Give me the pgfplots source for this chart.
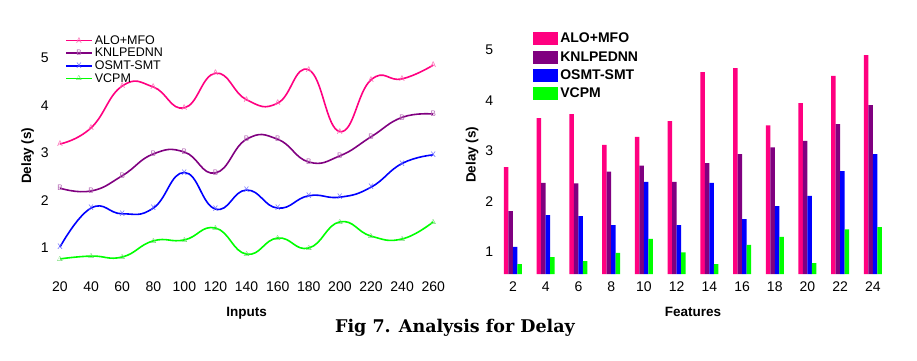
\documentclass[border=0pt]{standalone}
\usepackage{pgfplots}
\pgfplotsset{compat=1.18}
\usepackage{fontspec}
\setmainfont{Liberation Sans}
\newfontfamily\capfont{DejaVu Serif}
\definecolor{cA}{RGB}{255,0,128}
\definecolor{cB}{RGB}{128,0,128}
\definecolor{cC}{RGB}{0,0,255}
\definecolor{cD}{RGB}{0,255,0}
\newcommand\mk{\fontsize{8}{8}\selectfont}
\pgfplotsset{
  common/.style={
    scale only axis,
    axis x line*=bottom, axis y line*=left,
    axis line style={draw=none},
    major tick length=0pt,
    tick style={draw=none},
    /pgf/number format/assume math mode=true,
    ticklabel style={font=\fontsize{14}{16}\selectfont},
    xticklabel style={yshift=-4pt},
    label style={font=\bfseries\fontsize{13.5}{16}\selectfont},
    xlabel style={yshift=-9pt},
    ytick={1,2,3,4,5},
    clip=false,
  },
  lin/.style={line width=1.6pt, smooth, tension=0.8},
}
\begin{document}
\begin{tikzpicture}[x=1pt,y=1pt]
\useasboundingbox (0,0) rectangle (917,360);
\begin{axis}[common,
  at={(52.2pt,85.9pt)}, anchor=south west,
  width=388.8pt, height=244.6pt,
  xmin=15, xmax=265, ymin=0.45, ymax=5.6,
  xtick={20,40,...,260},
  xlabel={Inputs}, ylabel={Delay (s)},
  ylabel style={xshift=-4pt},
  legend style={at={(0.033,0.985)}, anchor=north west, draw=none, fill=none,
    font=\fontsize{12.5}{13}\selectfont, row sep=-1.5pt, inner sep=0pt},
  legend cell align=left,
  legend image code/.code={\draw[mark repeat=2,mark phase=2,#1] plot coordinates {(0pt,0pt) (13pt,0pt) (26pt,0pt)};},
]
\addplot[lin, cA, mark=text, text mark={\mk\color{cA!60}A}] coordinates {
(20,3.19) (40,3.53) (60,4.41) (80,4.39) (100,3.95) (120,4.68) (140,4.12) (160,4.05) (180,4.75) (200,3.45) (220,4.54) (240,4.56) (260,4.85)};
\addlegendentry{ALO+MFO}
\addplot[lin, cB, mark=text, text mark={\mk\color{cB!60}B}] coordinates {
(20,2.26) (40,2.20) (60,2.52) (80,2.98) (100,3.02) (120,2.58) (140,3.29) (160,3.29) (180,2.81) (200,2.94) (220,3.34) (240,3.75) (260,3.82)};
\addlegendentry{KNLPEDNN}
\addplot[lin, cC, mark=text, text mark={\mk\color{cC!60}X}] coordinates {
(20,1.02) (40,1.84) (60,1.72) (80,1.84) (100,2.59) (120,1.82) (140,2.22) (160,1.84) (180,2.10) (200,2.07) (220,2.28) (240,2.78) (260,2.96)};
\addlegendentry{OSMT-SMT}
\addplot[lin, cD, mark=text, text mark={\color{cD!75!black!60}$\scriptstyle\Delta$}] coordinates {
(20,0.77) (40,0.83) (60,0.81) (80,1.15) (100,1.17) (120,1.42) (140,0.87) (160,1.21) (180,1.00) (200,1.55) (220,1.25) (240,1.19) (260,1.55)};
\addlegendentry{VCPM}
\end{axis}
\begin{axis}[common,
  at={(496.6pt,85.8pt)}, anchor=south west,
  width=392.7pt, height=246.9pt,
  xmin=1, xmax=25, ymin=0.56, ymax=5.45,
  xtick={2,4,...,24},
  ybar=0pt, bar width=4.5pt,
  xlabel={Features}, ylabel={Delay (s)},
  ylabel style={xshift=-4pt},
  legend style={at={(0.093,0.985)}, anchor=north west, draw=none, fill=none,
    font=\bfseries\fontsize{14}{15}\selectfont, row sep=3pt, inner sep=0pt},
  legend cell align=left,
  legend image code/.code={\fill[#1] (0pt,-6.5pt) rectangle (25pt,6.5pt);},
]
\addplot[fill=cA, draw=none] coordinates {
(2,2.68) (4,3.65) (6,3.73) (8,3.12) (10,3.28) (12,3.59) (14,4.56) (16,4.64) (18,3.51) (20,3.95) (22,4.49) (24,4.90)};
\addlegendentry{ALO+MFO}
\addplot[fill=cB, draw=none] coordinates {
(2,1.81) (4,2.37) (6,2.36) (8,2.59) (10,2.71) (12,2.39) (14,2.76) (16,2.94) (18,3.07) (20,3.20) (22,3.53) (24,3.91)};
\addlegendentry{KNLPEDNN}
\addplot[fill=cC, draw=none] coordinates {
(2,1.10) (4,1.73) (6,1.71) (8,1.53) (10,2.39) (12,1.53) (14,2.37) (16,1.65) (18,1.91) (20,2.11) (22,2.60) (24,2.94)};
\addlegendentry{OSMT-SMT}
\addplot[fill=cD, draw=none] coordinates {
(2,0.76) (4,0.90) (6,0.82) (8,0.98) (10,1.26) (12,0.99) (14,0.76) (16,1.14) (18,1.30) (20,0.78) (22,1.45) (24,1.49)};
\addlegendentry{VCPM}
\end{axis}
\node[font=\capfont\bfseries\fontsize{17.5}{20}\selectfont] at (455,32) {Fig 7. Analysis for Delay};
\end{tikzpicture}
\end{document}
